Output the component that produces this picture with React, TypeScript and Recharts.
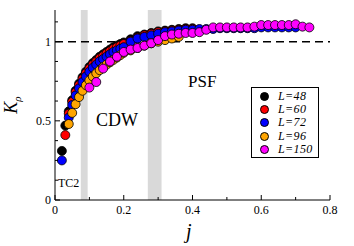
import { ScatterChart, Scatter, XAxis, YAxis, ReferenceLine, ReferenceArea } from 'recharts';

// K_rho vs j for several system sizes
const j48 = [0.02, 0.03, 0.04, 0.05, 0.06, 0.07, 0.08, 0.09, 0.1, 0.11, 0.12, 0.13, 0.14, 0.15, 0.16, 0.17, 0.18, 0.19, 0.2, 0.22, 0.24, 0.26, 0.28, 0.3, 0.32, 0.34, 0.36, 0.38, 0.4];
const k48 = [0.31, 0.47, 0.56, 0.63, 0.69, 0.735, 0.775, 0.81, 0.84, 0.865, 0.885, 0.905, 0.92, 0.935, 0.95, 0.965, 0.975, 0.985, 0.995, 1.015, 1.035, 1.045, 1.055, 1.065, 1.07, 1.075, 1.08, 1.085, 1.085];

const j60 = [0.03, 0.04, 0.05, 0.06, 0.07, 0.08, 0.09, 0.1, 0.11, 0.12, 0.13, 0.14, 0.15, 0.16, 0.17, 0.18, 0.19, 0.2, 0.22, 0.24, 0.26, 0.28, 0.3, 0.32, 0.34, 0.36, 0.38, 0.4];
const k60 = [0.41, 0.545, 0.62, 0.68, 0.725, 0.765, 0.8, 0.83, 0.855, 0.875, 0.895, 0.91, 0.925, 0.94, 0.955, 0.965, 0.975, 0.985, 1.005, 1.025, 1.04, 1.05, 1.06, 1.065, 1.07, 1.075, 1.08, 1.08];

const j72 = [0.02, 0.04, 0.05, 0.06, 0.07, 0.08, 0.09, 0.1, 0.11, 0.12, 0.13, 0.14, 0.15, 0.16, 0.17, 0.18, 0.19, 0.2, 0.22, 0.24, 0.26, 0.28, 0.3, 0.32, 0.34, 0.36, 0.38, 0.4, 0.42, 0.44, 0.46, 0.48, 0.5, 0.52, 0.54, 0.56, 0.58, 0.6, 0.62, 0.64, 0.66, 0.68, 0.7];
const k72 = [0.25, 0.52, 0.6, 0.66, 0.705, 0.745, 0.78, 0.81, 0.835, 0.855, 0.875, 0.89, 0.905, 0.92, 0.935, 0.945, 0.955, 0.965, 1.0, 1.02, 1.03, 1.04, 1.05, 1.06, 1.065, 1.07, 1.075, 1.075, 1.08, 1.08, 1.08, 1.085, 1.085, 1.085, 1.085, 1.085, 1.085, 1.09, 1.09, 1.09, 1.09, 1.09, 1.09];

const j96 = [0.04, 0.05, 0.06, 0.07, 0.08, 0.09, 0.1, 0.11, 0.12, 0.13, 0.14, 0.15, 0.16, 0.17, 0.18, 0.19, 0.2, 0.22, 0.24, 0.26, 0.28, 0.3, 0.32, 0.34, 0.36];
const k96 = [0.48, 0.55, 0.605, 0.65, 0.69, 0.725, 0.755, 0.78, 0.8, 0.82, 0.84, 0.855, 0.87, 0.885, 0.9, 0.915, 0.93, 0.945, 0.96, 0.975, 0.99, 1.0, 1.01, 1.02, 1.03];

const j150 = [0.1, 0.12, 0.14, 0.16, 0.18, 0.2, 0.22, 0.24, 0.26, 0.28, 0.3, 0.32, 0.34, 0.36, 0.38, 0.4, 0.42, 0.44, 0.46, 0.48, 0.5, 0.52, 0.54, 0.56, 0.58, 0.6, 0.62, 0.64, 0.66, 0.68, 0.7, 0.72, 0.74];
const k150 = [0.71, 0.745, 0.83, 0.875, 0.905, 0.935, 0.95, 0.96, 0.975, 0.99, 1.01, 1.035, 1.045, 1.05, 1.055, 1.055, 1.06, 1.075, 1.09, 1.09, 1.09, 1.09, 1.09, 1.09, 1.095, 1.105, 1.105, 1.105, 1.105, 1.105, 1.11, 1.095, 1.09];

const series = [
  { name: 'L=48', color: '#000000', j: j48, k: k48 },
  { name: 'L=60', color: '#ff0000', j: j60, k: k60 },
  { name: 'L=72', color: '#0000ff', j: j72, k: k72 },
  { name: 'L=96', color: '#ffa500', j: j96, k: k96 },
  { name: 'L=150', color: '#ff00ff', j: j150, k: k150 },
];

const xTicks = [0, 0.1, 0.2, 0.3, 0.4, 0.5, 0.6, 0.7, 0.8];
const xLabels = [0, 0.2, 0.4, 0.6, 0.8];
const yTicks = [0, 0.125, 0.25, 0.375, 0.5, 0.625, 0.75, 0.875, 1, 1.125];
const yLabels = [0, 0.5, 1];
const bands = [[0.075, 0.095], [0.27, 0.31]];

const serif = 'Liberation Serif, Times New Roman, serif';

const isMajor = (v: number, list: number[]) => list.some((m) => Math.abs(m - v) < 1e-6);

const BottomTick = (p: any) => {
  const major = isMajor(p.payload.value, xLabels);
  return (
    <g>
      <line x1={p.x} y1={p.y} x2={p.x} y2={p.y - (major ? 5 : 3)} stroke="#000" />
      {major && (
        <text x={p.x} y={p.y + 14} textAnchor="middle" fontSize={12} fontFamily={serif} fill="#000">
          {String(p.payload.value)}
        </text>
      )}
    </g>
  );
};

const TopTick = (p: any) => {
  const major = isMajor(p.payload.value, xLabels);
  return <line x1={p.x} y1={p.y} x2={p.x} y2={p.y + (major ? 5 : 3)} stroke="#000" />;
};

const LeftTick = (p: any) => {
  const major = isMajor(p.payload.value, yLabels);
  return (
    <g>
      <line x1={p.x} y1={p.y} x2={p.x + (major ? 5 : 3)} y2={p.y} stroke="#000" />
      {major && (
        <text x={p.x - 4} y={p.y + 4} textAnchor="end" fontSize={12} fontFamily={serif} fill="#000">
          {String(p.payload.value)}
        </text>
      )}
    </g>
  );
};

const RightTick = (p: any) => {
  const major = isMajor(p.payload.value, yLabels);
  return <line x1={p.x} y1={p.y} x2={p.x - (major ? 5 : 3)} y2={p.y} stroke="#000" />;
};

const Dot = (color: string) => (p: any) => (
  <circle cx={p.cx} cy={p.cy} r={4.5} fill={color} stroke="#000" strokeWidth={0.8} />
);

export default function App() {
  return (
    <div style={{ position: 'absolute', left: 0, top: 0, width: 354, height: 246, background: '#fff' }}>
      <ScatterChart width={354} height={246} margin={{ top: 10, right: 24, bottom: 16, left: 15 }}>
        <XAxis
          xAxisId="b"
          type="number"
          dataKey="x"
          domain={[0, 0.8]}
          ticks={xTicks}
          interval={0}
          height={30}
          tickSize={0}
          tickMargin={0}
          tickLine={false}
          axisLine={{ stroke: '#000' }}
          tick={BottomTick}
        />
        <XAxis
          xAxisId="t"
          orientation="top"
          type="number"
          dataKey="x"
          domain={[0, 0.8]}
          ticks={xTicks}
          interval={0}
          height={0}
          tickSize={0}
          tickMargin={0}
          tickLine={false}
          axisLine={{ stroke: '#000' }}
          tick={TopTick}
        />
        <YAxis
          yAxisId="l"
          type="number"
          dataKey="y"
          domain={[0, 1.2]}
          ticks={yTicks}
          interval={0}
          width={40}
          tickSize={0}
          tickMargin={0}
          tickLine={false}
          axisLine={{ stroke: '#000' }}
          tick={LeftTick}
        />
        <YAxis
          yAxisId="r"
          orientation="right"
          type="number"
          dataKey="y"
          domain={[0, 1.2]}
          ticks={yTicks}
          interval={0}
          width={0}
          tickSize={0}
          tickMargin={0}
          tickLine={false}
          axisLine={{ stroke: '#000' }}
          tick={RightTick}
        />
        {bands.map(([a, b], i) => (
          <ReferenceArea key={i} xAxisId="b" yAxisId="l" x1={a} x2={b} y1={0} y2={1.2} fill="#d9d9d9" fillOpacity={1} stroke="none" />
        ))}
        <ReferenceLine xAxisId="b" yAxisId="l" y={1} stroke="#000" strokeWidth={1.5} strokeDasharray="8 5" />
        {series.map((s) => (
          <Scatter
            key={s.name}
            xAxisId="b"
            yAxisId="l"
            name={s.name}
            data={s.j.map((x, i) => ({ x, y: s.k[i] }))}
            shape={Dot(s.color)}
            isAnimationActive={false}
          />
        ))}
      </ScatterChart>

      <div style={{ position: 'absolute', left: 96, top: 110, fontFamily: serif, fontSize: 18, lineHeight: '20px' }}>CDW</div>
      <div style={{ position: 'absolute', left: 188, top: 72, fontFamily: serif, fontSize: 17, lineHeight: '20px' }}>PSF</div>
      <div style={{ position: 'absolute', left: 58, top: 176, fontFamily: serif, fontSize: 12, lineHeight: '14px' }}>TC2</div>

      <div
        style={{
          position: 'absolute',
          left: 14,
          top: 105,
          transform: 'translate(-50%, -50%) rotate(-90deg)',
          fontFamily: serif,
          fontSize: 18,
          whiteSpace: 'nowrap',
          lineHeight: '20px',
        }}
      >
        <i>K</i>
        <sub style={{ fontSize: 11, fontStyle: 'italic' }}>ρ</sub>
      </div>
      <div style={{ position: 'absolute', left: 186, top: 220, fontFamily: serif, fontSize: 20, fontStyle: 'italic', lineHeight: '22px' }}>
        j
      </div>

      <div
        style={{
          position: 'absolute',
          left: 251,
          top: 87,
          width: 68,
          height: 71,
          border: '1px solid #000',
          background: '#fff',
          boxSizing: 'border-box',
          paddingTop: 2,
        }}
      >
        {series.map((s) => (
          <div key={s.name} style={{ display: 'flex', alignItems: 'center', height: 13.2 }}>
            <span
              style={{
                display: 'inline-block',
                width: 7,
                height: 7,
                borderRadius: '50%',
                background: s.color,
                border: '0.8px solid #000',
                marginLeft: 8,
                marginRight: 9,
              }}
            />
            <span style={{ fontFamily: serif, fontStyle: 'italic', fontSize: 12, letterSpacing: 0.4, lineHeight: '13px' }}>
              {s.name}
            </span>
          </div>
        ))}
      </div>
    </div>
  );
}
